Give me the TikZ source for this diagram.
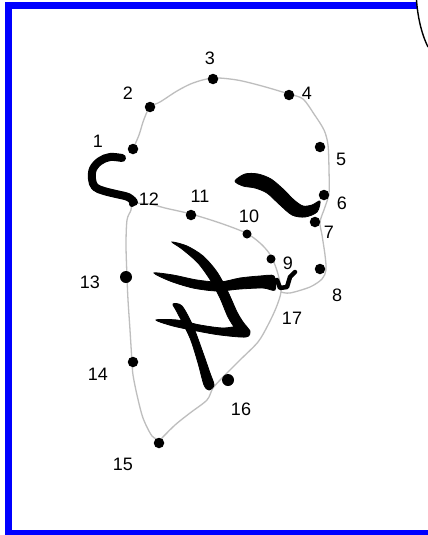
\documentclass[tikz,border=0pt]{standalone}
\usepackage{fontspec}
\setmainfont{Liberation Sans}
\definecolor{frameblue}{RGB}{0,0,255}
\definecolor{contourgray}{RGB}{190,190,190}
\tikzset{
  dotmark/.style={circle,fill=black,inner sep=0pt,minimum size=#1},
  dotmark/.default=10.5pt,
  numlabel/.style={inner sep=0pt,font=\fontsize{18}{18}\selectfont},
  contour/.style={draw=contourgray,line width=1.3pt,line join=round},
  brush/.style={fill=black,draw=black,line width=0.8pt},
  brushline/.style={draw=black,line cap=round,line join=round},
}
\begin{document}
\begin{tikzpicture}[x=1pt,y=-1pt]
\useasboundingbox (0,0) rectangle (428,535);
\fill[white] (0,0) rectangle (428,535);
% frame
\fill[frameblue] (5,2) rectangle (417,9);
\fill[frameblue] (5,2) rectangle (12,535);
\fill[frameblue] (5,530) rectangle (428,535);
\draw[black,line width=1.4pt] (416.5,0) .. controls (417.5,15) and (421,33) .. (428,47);

% gray contours
\draw[contour] plot[smooth,tension=0.5] coordinates {(133,149) (139,135) (143,122) (147,112) (151,106) (160,102) (177,91) (193,83) (213,78) (237,80) (262,86) (289,94) (303,99) (314,114) (324,130) (328,145) (329,170) (329,193) (325,207) (320,222) (322,235) (325,255) (326,270) (322,279) (310,287) (290,293) (281,292)};
\draw[contour] plot[smooth,tension=0.5] coordinates {(131,203) (150,204) (165,208) (191,214) (220,223) (246,233) (260,243) (269,253) (275,265) (279,278) (281,292) (276,308) (268,325) (258,342) (240,360) (224,376) (213,388) (207,400) (190,413) (175,425) (160,440)};
\draw[contour] plot[smooth,tension=0.5] coordinates {(160,440) (152,436) (143,418) (137,395) (133,375) (132,362) (130,330) (128,300) (127,277) (126,245) (127,220) (131,210) (131,203)};

% brush strokes
\draw[brushline,line width=8pt] plot[smooth,tension=0.6] coordinates {(122,158) (110,157) (100,161) (93,169) (92,179) (95,187) (104,191) (116,194) (128,197) (134,202)};
\filldraw[brush] plot[smooth cycle,tension=0.5] coordinates {(235,181) (245,174) (258,174) (271,179) (283,189) (294,200) (303,206) (312,205) (320,201) (317,212) (305,217) (292,215) (279,204) (267,193) (255,188) (243,186)};
\filldraw[brush] plot[smooth cycle,tension=0.5] coordinates {(172,242) (187,246) (203,256) (217,272) (228,292) (237,312) (243,322) (249,330) (248,336) (240,336) (236,330) (228,317) (220,298) (211,281) (198,263) (182,249)};
\filldraw[brush] plot[smooth cycle,tension=0.5] coordinates {(154,273) (173,275) (197,280) (220,282) (240,278) (260,276) (274,276) (275,290) (263,288) (240,289) (217,291) (193,288) (170,281)};
\filldraw[brush] plot[smooth cycle,tension=0.5] coordinates {(173,304) (182,306) (193,326) (202,350) (210,373) (214,385) (209,390) (204,385) (198,363) (190,338) (177,312)};
\filldraw[brush] plot[smooth cycle,tension=0.5] coordinates {(156,320) (177,320) (200,325) (223,328) (242,326) (250,331) (246,337) (220,335) (197,331) (173,326)};
\draw[brushline,line width=4.5pt] (268,285) -- (277,280) -- (280,288) -- (287,287) -- (290,277) -- (295,272);

% dots
\node[dotmark] (p1) at (133,149) {};
\node[dotmark] (p2) at (150,107) {};
\node[dotmark] (p3) at (213,79) {};
\node[dotmark] (p4) at (289,95) {};
\node[dotmark] (p5) at (320,147) {};
\node[dotmark] (p6) at (324,195) {};
\node[dotmark] (p7) at (315,222) {};
\node[dotmark] (p8) at (320,269) {};
\node[dotmark=9pt] (p9) at (271,259) {};
\node[dotmark=9pt] (p10) at (247,234) {};
\node[dotmark] (p11) at (191,215) {};
\node[dotmark=6pt] (p12) at (132,204) {};
\node[dotmark=12pt] (p13) at (126,277) {};
\node[dotmark] (p14) at (133,362) {};
\node[dotmark] (p15) at (159,443) {};
\node[dotmark=12pt] (p16) at (228,380) {};
\coordinate (p17) at (281,292);

% labels
\node[numlabel] (l1) at (98,141) {1};
\node[numlabel] (l2) at (128,93) {2};
\node[numlabel] (l3) at (210,58) {3};
\node[numlabel] (l4) at (307,93) {4};
\node[numlabel] (l5) at (341,159) {5};
\node[numlabel] (l6) at (342,203) {6};
\node[numlabel] (l7) at (329,232) {7};
\node[numlabel] (l8) at (337,295) {8};
\node[numlabel] (l9) at (288,263) {9};
\node[numlabel] (l10) at (249,216) {10};
\node[numlabel] (l11) at (200,196) {11};
\node[numlabel] (l12) at (149,199) {12};
\node[numlabel] (l13) at (90,282) {13};
\node[numlabel] (l14) at (98,374) {14};
\node[numlabel] (l15) at (123,464) {15};
\node[numlabel] (l16) at (241,409) {16};
\node[numlabel] (l17) at (292,318) {17};
\end{tikzpicture}
\end{document}
